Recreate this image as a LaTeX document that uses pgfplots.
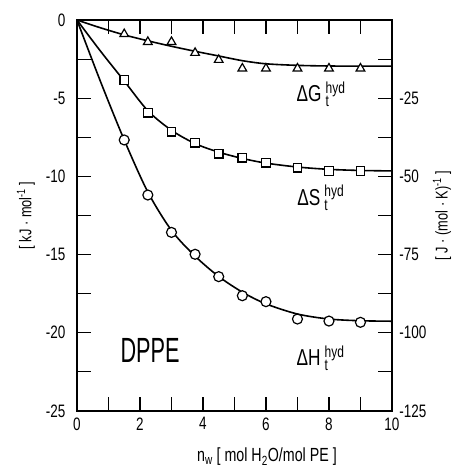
\documentclass[border=0pt]{standalone}
\usepackage{fontspec}
\setmainfont{Liberation Sans}[FakeStretch=0.75]
\newfontfamily\dppefont{Liberation Sans}[FakeStretch=0.62]
\usepackage{pgfplots}
\pgfplotsset{compat=1.18}
\newcommand{\thermo}[1]{{\fontsize{23}{23}\selectfont Δ#1}{\fontsize{16}{16}\selectfont\hspace{4pt}\rlap{\raisebox{8.5pt}{hyd}}\raisebox{-5pt}{t}}}
\begin{document}
\begin{tikzpicture}
\begin{axis}[
  scale only axis, width=315pt, height=391pt,
  xmin=0, xmax=10, ymin=-25, ymax=0,
  xtick={0,2,...,10}, minor xtick={1,3,...,9},
  ytick={-25,-20,...,0}, minor ytick={-22.5,-17.5,-12.5,-7.5,-2.5},
  tick align=inside, major tick length=14pt, minor tick length=14pt,
  every tick/.style={line width=1.2pt, black},
  axis line style={line width=1.3pt},
  tick label style={font=\fontsize{18}{18}\selectfont},
  yticklabel style={xshift=-8pt},
  xticklabel style={yshift=-3pt},
  /pgf/number format/assume math mode=true,
  xlabel={n\textsubscript{w} [ mol H\textsubscript{2}O/mol PE ]},
  xlabel style={at={(axis description cs:0.603,-0.130)}, anchor=base, font=\fontsize{19}{19}\selectfont},
  ylabel={[ kJ · mol\textsuperscript{-1} ]},
  ylabel style={at={(axis description cs:-0.162,0.5)}, anchor=center, font=\fontsize{17}{17}\selectfont},
  clip=false,
]
\path (rel axis cs:-0.2444,-0.1535) rectangle (rel axis cs:1.1905,1.0512);
% fitted curves
\addplot[smooth, line width=1.6pt, no marks] coordinates {
 (0,0) (0.75,-0.5) (1.5,-0.95) (2.25,-1.33) (3,-1.68) (3.75,-2.0) (4.5,-2.3)
 (5.25,-2.6) (6,-2.8) (7,-2.9) (8,-2.94) (9,-2.95) (10,-2.95)};
\addplot[smooth, line width=1.6pt, no marks] coordinates {
 (0,0) (0.75,-2.0) (1.5,-3.9) (2.25,-5.8) (3,-7.05) (3.75,-7.9) (4.5,-8.45)
 (5.25,-8.85) (6,-9.15) (7,-9.4) (8,-9.55) (9,-9.62) (10,-9.65)};
\addplot[smooth, line width=1.6pt, no marks] coordinates {
 (0,0) (0.75,-3.95) (1.5,-7.67) (2.25,-11.0) (3,-13.45) (3.75,-15.1) (4.5,-16.4)
 (5.25,-17.4) (6,-18.15) (7,-18.8) (8,-19.12) (9,-19.23) (10,-19.26)};
% data points
\addplot[only marks, mark=triangle*, mark size=5pt, mark options={fill=white, draw=black, line width=1.2pt}] coordinates {
 (1.5,-0.9) (2.25,-1.4) (3,-1.4) (3.75,-2.1) (4.5,-2.55) (5.25,-3.1) (6,-3.1) (7,-3.1) (8,-3.1) (9,-3.1)};
\addplot[only marks, mark=square*, mark size=4.3pt, mark options={fill=white, draw=black, line width=1.2pt}] coordinates {
 (1.5,-3.84) (2.25,-5.93) (3,-7.14) (3.75,-7.84) (4.5,-8.55) (5.25,-8.8) (6,-9.12) (7,-9.44) (8,-9.65) (9,-9.65)};
\addplot[only marks, mark=*, mark size=5pt, mark options={fill=white, draw=black, line width=1.2pt}] coordinates {
 (1.5,-7.67) (2.25,-11.19) (3,-13.58) (3.75,-14.98) (4.5,-16.41) (5.25,-17.63) (6,-18.01) (7,-19.12) (8,-19.25) (9,-19.33)};
\node[anchor=base west, inner sep=0] at (axis cs:6.97,-5.22) {\thermo{G}};
\node[anchor=base west, inner sep=0] at (axis cs:6.99,-11.83) {\thermo{S}};
\node[anchor=base west, inner sep=0] at (axis cs:6.97,-22.1) {\thermo{H}};
\node[inner sep=0, font=\dppefont\fontsize{35}{35}\selectfont] at (axis cs:2.32,-21.13) {DPPE};
\end{axis}
\begin{axis}[
  scale only axis, width=315pt, height=391pt,
  xmin=0, xmax=10, ymin=-125, ymax=0,
  hide x axis,
  axis y line*=right,
  y axis line style={draw=none},
  ytick={-125,-100,...,-25},
  major tick length=0pt,
  tick label style={font=\fontsize{18}{18}\selectfont},
  yticklabel style={xshift=4pt},
  /pgf/number format/assume math mode=true,
  ylabel={[ J · (mol · K)\textsuperscript{-1} ]},
  ylabel style={at={(axis description cs:1.159,0.5)}, anchor=center, font=\fontsize{17}{17}\selectfont},
]
\end{axis}
\end{tikzpicture}
\end{document}
